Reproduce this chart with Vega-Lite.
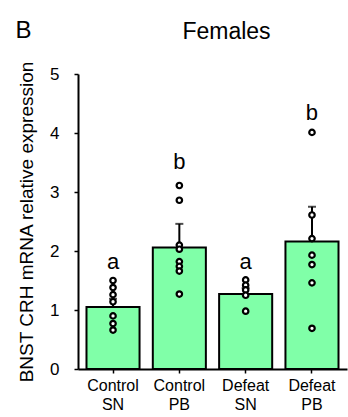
{
  "$schema": "https://vega.github.io/schema/vega-lite/v6.json",
  "width": 269,
  "height": 295,
  "autosize": "none",
  "padding": {"left": 78, "top": 74, "right": 1, "bottom": 48},
  "background": "white",
  "config": {"view": {"stroke": null}, "font": "Liberation Sans"},
  "title": {"text": "Females", "fontSize": 23, "fontWeight": "normal", "color": "black", "anchor": "middle", "frame": "group", "dx": 14, "offset": -26},
  "datasets": {
    "means": [
      {"group": "Control SN", "mean": 1.05, "upper": 1.19, "letter": "a", "lpos": 1.82},
      {"group": "Control PB", "mean": 2.06, "upper": 2.46, "letter": "b", "lpos": 3.51},
      {"group": "Defeat SN", "mean": 1.27, "upper": 1.37, "letter": "a", "lpos": 1.82},
      {"group": "Defeat PB", "mean": 2.16, "upper": 2.75, "letter": "b", "lpos": 4.34}
    ],
    "points": [
      {"group": "Control SN", "value": 1.50},
      {"group": "Control SN", "value": 1.38},
      {"group": "Control SN", "value": 1.26},
      {"group": "Control SN", "value": 1.14},
      {"group": "Control SN", "value": 0.90},
      {"group": "Control SN", "value": 0.77},
      {"group": "Control SN", "value": 0.66},
      {"group": "Control PB", "value": 3.11},
      {"group": "Control PB", "value": 2.86},
      {"group": "Control PB", "value": 2.10},
      {"group": "Control PB", "value": 2.03},
      {"group": "Control PB", "value": 1.82},
      {"group": "Control PB", "value": 1.74},
      {"group": "Control PB", "value": 1.66},
      {"group": "Control PB", "value": 1.27},
      {"group": "Defeat SN", "value": 1.51},
      {"group": "Defeat SN", "value": 1.42},
      {"group": "Defeat SN", "value": 1.34},
      {"group": "Defeat SN", "value": 1.25},
      {"group": "Defeat SN", "value": 0.98},
      {"group": "Defeat PB", "value": 4.01},
      {"group": "Defeat PB", "value": 2.61},
      {"group": "Defeat PB", "value": 2.21},
      {"group": "Defeat PB", "value": 1.93},
      {"group": "Defeat PB", "value": 1.77},
      {"group": "Defeat PB", "value": 1.46},
      {"group": "Defeat PB", "value": 0.69}
    ]
  },
  "resolve": {"axis": {"x": "independent"}},
  "layer": [
    {
      "data": {"name": "means"},
      "mark": {"type": "bar", "fill": "#80FFA8", "stroke": "black", "strokeWidth": 2},
      "encoding": {
        "x": {
          "field": "group", "type": "nominal",
          "scale": {"domain": ["Control SN", "Control PB", "Defeat SN", "Defeat PB"], "paddingInner": 0.2, "paddingOuter": 0.128},
          "axis": {
            "title": null, "labelExpr": "split(datum.label, ' ')", "labelAngle": 0,
            "labelFontSize": 16, "labelLineHeight": 19, "labelColor": "black",
            "tickSize": 4, "tickColor": "black", "tickWidth": 1.5,
            "domainColor": "black", "domainWidth": 2, "labelPadding": 4
          }
        },
        "y": {
          "field": "mean", "type": "quantitative",
          "scale": {"domain": [0, 5], "nice": false},
          "axis": {
            "title": "BNST CRH mRNA relative expression", "titleFontSize": 19, "titleFontWeight": "normal",
            "titleColor": "black", "titlePadding": 13, "format": "d",
            "values": [0, 1, 2, 3, 4, 5], "grid": false,
            "labelFontSize": 17, "labelColor": "black", "labelPadding": 15,
            "tickSize": 4, "tickColor": "black", "tickWidth": 1.5,
            "domainColor": "black", "domainWidth": 2
          }
        }
      }
    },
    {
      "data": {"name": "means"},
      "mark": {"type": "rule", "color": "black", "strokeWidth": 2},
      "encoding": {
        "x": {"field": "group", "type": "nominal", "axis": null},
        "y": {"field": "mean", "type": "quantitative"},
        "y2": {"field": "upper"}
      }
    },
    {
      "data": {"name": "means"},
      "mark": {"type": "tick", "color": "black", "thickness": 2, "size": 8},
      "encoding": {
        "x": {"field": "group", "type": "nominal", "axis": null},
        "y": {"field": "upper", "type": "quantitative"}
      }
    },
    {
      "data": {"name": "points"},
      "mark": {"type": "point", "filled": true, "fill": "white", "stroke": "black", "strokeWidth": 2.2, "size": 30, "opacity": 1},
      "encoding": {
        "x": {"field": "group", "type": "nominal", "axis": null},
        "y": {"field": "value", "type": "quantitative"}
      }
    },
    {
      "data": {"name": "means"},
      "mark": {"type": "text", "fontSize": 22, "baseline": "middle", "color": "black"},
      "encoding": {
        "x": {
          "field": "group", "type": "nominal",
          "axis": {
            "orient": "top", "domain": false, "ticks": false, "labels": false, "grid": false,
            "title": "B", "titleAngle": 0, "titleX": -63, "titleY": -37,
            "titleFontSize": 24, "titleFontWeight": "normal", "titleColor": "black",
            "titleAlign": "left", "titleBaseline": "alphabetic"
          }
        },
        "y": {"field": "lpos", "type": "quantitative"},
        "text": {"field": "letter"}
      }
    }
  ]
}
